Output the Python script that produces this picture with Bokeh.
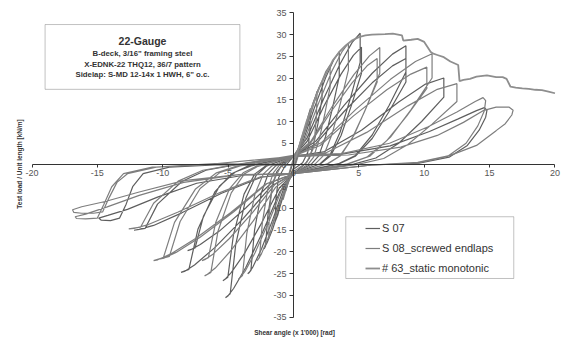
from math import pi
from bokeh.plotting import figure
from bokeh.models import (Label, BoxAnnotation, Legend, LegendItem, FixedTicker, Range1d)
from bokeh.embed import file_html
from bokeh.resources import INLINE

# ---------------- data ----------------
x_ticks = [-20, -15, -10, -5, 0, 5, 10, 15, 20]
x_tick_labels = ["-20", "-15", "-10", "-5", "0", "5", "10", "15", "20"]
y_ticks = [-35, -30, -25, -20, -15, -10, -5, 0, 5, 10, 15, 20, 25, 30, 35]
y_tick_labels = ["-35", "-30", "-25", "-20", "-15", "-10", "-5", "0", "5", "10", "15", "20", "25", "30", "35"]

series_names = ["S 07", "S 08_screwed endlaps", "# 63_static monotonic"]

# S 07 cyclic test (shear angle x1000 rad, load kN/m)
s07_points = [
    (0, 0), (0.3, 3), (0.6, 6), (0.45, 3.5), (0.15, 0.5), (-0.3, -3), (-0.6, -6), (-0.45, -3.5), (-0.15, -0.5),
    (0, 1), (0.45, 4), (0.85, 8), (1.15, 11.5), (1.3, 13), (1.25, 8), (1.1, 3), (0.7, 0.5),
    (0, -1), (-0.45, -4), (-0.9, -8), (-1.2, -11.5), (-1.4, -13), (-1.35, -8), (-1.15, -3), (-0.7, -0.5),
    (0, 2), (0.44, 3.8), (0.99, 9.5), (1.54, 14.6), (1.94, 17.7), (2.2, 19), (2.18, 15.2), (1.87, 9.5),
    (1.54, 4.8), (1.21, 1.5), (0.88, 0.2),
    (0, -2), (-0.46, -3.9), (-1.04, -9.7), (-1.61, -14.9), (-2.02, -17.9), (-2.23, -19.1), (-2.25, -19.3),
    (-2.14, -18.7), (-1.96, -11.6), (-1.61, -4.8), (-1.27, -1.5), (-0.92, -0.2),
    (0, 2), (0.7, 5.2), (1.58, 13), (2.45, 20), (3.08, 24.2), (3.5, 26), (3.5, 20.3), (2.98, 13), (2.45, 6.5),
    (1.93, 2.1), (1.4, 0.3),
    (0, -2), (-0.7, -5), (-1.58, -12.5), (-2.45, -19.3), (-3.08, -23.3), (-3.4, -24.8), (-3.5, -25),
    (-3.26, -24.3), (-2.98, -15), (-2.45, -6.3), (-1.93, -2), (-1.4, -0.3),
    (0, 2), (1.02, 6.1), (2.3, 15.2), (3.57, 23.3), (4.49, 28.2), (5.1, 30.3), (5.1, 23.6), (4.34, 15.2),
    (3.57, 7.6), (2.81, 2.4), (2.04, 0.3),
    (0, -2), (-1.04, -6.1), (-2.34, -15.3), (-3.64, -23.5), (-4.58, -28.4), (-5.04, -30.2), (-5.2, -30.5),
    (-4.84, -29.6), (-4.42, -18.3), (-3.64, -7.6), (-2.86, -2.4), (-2.08, -0.3),
    (0, 2), (1.04, 5.4), (2.34, 13.6), (3.64, 20.9), (4.58, 25.2), (5.2, 27.1), (5.2, 21.1), (4.42, 13.6),
    (3.64, 6.8), (2.86, 2.2), (2.08, 0.3),
    (0, -2), (-1.08, -5.3), (-2.43, -13.3), (-3.78, -20.5), (-4.75, -24.7), (-5.24, -26.3), (-5.4, -26.6),
    (-5.02, -25.8), (-4.59, -16), (-3.78, -6.7), (-2.97, -2.1), (-2.16, -0.3),
    (0, 2), (1.72, 5.5), (3.87, 13.7), (6.02, 21.1), (7.57, 25.5), (8.6, 27.4), (8.6, 21.4), (7.31, 13.7),
    (6.02, 6.9), (4.73, 2.2), (3.44, 0.3),
    (0, -2), (-1.72, -4.9), (-3.87, -12.4), (-6.02, -19), (-7.57, -23), (-8.34, -24.5), (-8.6, -24.7),
    (-8.0, -24), (-7.31, -14.8), (-6.02, -6.2), (-4.73, -2), (-3.44, -0.2),
    (0, 2), (1.72, 4.9), (3.87, 12.3), (6.02, 18.9), (7.57, 22.8), (8.6, 24.5), (8.6, 19.1), (7.31, 12.3),
    (6.02, 6.1), (4.73, 2), (3.44, 0.2),
    (0, -2), (-1.62, -3.9), (-3.65, -9.9), (-5.67, -15.2), (-7.13, -18.3), (-7.86, -19.5), (-8.1, -19.7),
    (-7.53, -19.1), (-6.89, -11.8), (-5.67, -4.9), (-4.46, -1.6), (-3.24, -0.2),
    (0, 2), (2.3, 3), (5.2, 8), (8.05, 14.5), (10.1, 18.6), (11.5, 20), (11.5, 15.6), (9.8, 10), (8.05, 5),
    (6.3, 1.6), (4.6, 0.2),
    (0, -2), (-2.44, -2.8), (-5.5, -6.5), (-8.54, -11), (-10.7, -13.9), (-11.8, -14.8), (-12.2, -15),
    (-11.35, -14.6), (-10.4, -9), (-8.54, -3.8), (-6.7, -1.2), (-4.9, -0.2),
    (0, 2), (3.7, 2.5), (7.4, 4.4), (10.4, 7.7), (12.6, 10.6), (14.0, 12.5), (14.6, 13.2), (14.8, 12.6),
    (14.7, 11), (14.2, 8), (13.3, 4.5), (11.9, 1.8), (9.6, 0.4), (6, 0),
    (0, -2), (-3.7, -2.3), (-7.4, -4.2), (-10.4, -7.4), (-12.7, -10.2), (-14.2, -11.6), (-14.9, -12.2),
    (-14.7, -12.7), (-14.0, -12.8), (-13.3, -12.2), (-12.8, -9), (-12.3, -5), (-11.5, -2), (-9.5, -0.5),
    (-6, 0), (0, 0),
]

# S 08 cyclic test, screwed endlaps
s08_points = [
    (0, 0), (0.4, 4), (0.8, 8), (0.6, 4.5), (0.2, 0.5), (-0.4, -4), (-0.8, -8), (-0.6, -4.5), (-0.2, -0.5),
    (0, 1.5), (0.55, 5), (1.1, 9.5), (1.5, 13.5), (1.8, 17), (1.75, 11), (1.55, 4), (1.0, 0.5),
    (0, -1.5), (-0.55, -5), (-1.15, -9.5), (-1.6, -13.5), (-1.9, -17), (-1.85, -11), (-1.6, -4), (-1.0, -0.5),
    (0, 2), (0.56, 4.6), (1.26, 11.5), (1.96, 17.7), (2.46, 21.4), (2.8, 23), (2.8, 17.9), (2.38, 11.5),
    (1.96, 5.8), (1.54, 1.8), (1.12, 0.2),
    (0, -2), (-0.56, -4.4), (-1.26, -11), (-1.96, -16.9), (-2.46, -20.5), (-2.72, -21.8), (-2.8, -22),
    (-2.6, -21.3), (-2.38, -13.2), (-1.96, -5.5), (-1.54, -1.8), (-1.12, -0.2),
    (0, 2), (0.84, 5.6), (1.89, 14), (2.94, 21.6), (3.7, 26), (4.2, 28), (4.2, 21.8), (3.57, 14), (2.94, 7),
    (2.31, 2.2), (1.68, 0.3),
    (0, -2), (-0.84, -5.2), (-1.89, -13.1), (-2.94, -20.2), (-3.7, -24.4), (-4.07, -25.9), (-4.2, -26.2),
    (-3.9, -25.4), (-3.57, -15.7), (-2.94, -6.6), (-2.31, -2.1), (-1.68, -0.3),
    (0, 2), (1.32, 5.4), (2.97, 13.5), (4.62, 20.8), (5.81, 25.1), (6.6, 27), (6.6, 21.1), (5.61, 13.5),
    (4.62, 6.8), (3.63, 2.2), (2.64, 0.3),
    (0, -2), (-1.36, -5.1), (-3.06, -12.8), (-4.76, -19.6), (-5.98, -23.7), (-6.6, -25.2), (-6.8, -25.5),
    (-6.32, -24.7), (-5.78, -15.3), (-4.76, -6.4), (-3.74, -2), (-2.72, -0.3),
    (0, 2), (1.28, 4.9), (2.88, 12.3), (4.48, 18.9), (5.63, 22.8), (6.4, 24.5), (6.4, 19.1), (5.44, 12.3),
    (4.48, 6.1), (3.52, 2), (2.56, 0.2),
    (0, -2), (-1.4, -4.4), (-3.15, -11), (-4.9, -16.9), (-6.16, -20.5), (-6.79, -21.8), (-7.0, -22),
    (-6.51, -21.3), (-5.95, -13.2), (-4.9, -5.5), (-3.85, -1.8), (-2.8, -0.2),
    (0, 2), (2.12, 5.1), (4.77, 12.8), (7.42, 19.7), (9.33, 23.8), (10.6, 25.6), (10.6, 20), (9.01, 12.8),
    (7.42, 6.4), (5.83, 2), (4.24, 0.3),
    (0, -2), (-2.14, -4.4), (-4.82, -11), (-7.49, -16.9), (-9.42, -20.5), (-10.38, -21.8), (-10.7, -22),
    (-9.95, -21.3), (-9.1, -13.2), (-7.49, -5.5), (-5.89, -1.8), (-4.28, -0.2),
    (0, 2), (2.04, 4.5), (4.59, 11.3), (7.14, 17.3), (8.98, 20.9), (10.2, 22.5), (10.2, 17.6), (8.67, 11.3),
    (7.14, 5.6), (5.61, 1.8), (4.08, 0.2),
    (0, -2), (-2.04, -4.3), (-4.59, -10.8), (-7.14, -16.6), (-8.98, -20.1), (-9.89, -21.4), (-10.2, -21.6),
    (-9.49, -21), (-8.67, -13), (-7.14, -5.4), (-5.61, -1.7), (-4.08, -0.2),
    (0, 2), (2.5, 2.8), (5.6, 7.5), (8.75, 13.6), (11, 17.4), (12.5, 18.7), (12.5, 14.6), (10.6, 9.4),
    (8.75, 4.7), (6.9, 1.5), (5, 0.2),
    (0, -2), (-2.52, -2.7), (-5.67, -6.4), (-8.82, -10.8), (-11.1, -13.7), (-12.2, -14.6), (-12.6, -14.7),
    (-11.7, -14.3), (-10.7, -8.8), (-8.82, -3.7), (-6.93, -1.2), (-5, -0.2),
    (0, 2.2), (3.7, 2.6), (7.35, 5), (10.3, 8.8), (12.5, 12.2), (13.9, 14.6), (14.5, 15.5), (14.7, 14.8),
    (14.6, 12.5), (14.1, 9), (13.2, 5), (11.8, 2), (9.5, 0.5), (6, 0),
    (0, -2), (-4.2, -2.2), (-8.4, -4), (-11.8, -7), (-14.3, -9.7), (-15.9, -11.3), (-16.7, -11.9),
    (-16.6, -12.3), (-15.9, -12.4), (-15.0, -12.2), (-14.5, -9), (-13.9, -5), (-13, -2), (-10.8, -0.5), (-7, 0),
    (0, 2), (4.2, 2.3), (8.2, 4.1), (11, 6.8), (13, 9.8), (14.5, 12.5), (15.5, 13.3), (16.5, 13.3), (16.8, 12.6),
    (16.7, 11.5), (16.2, 9.5), (15.5, 7.9), (14, 4.5), (12, 2.2), (9.5, 0.6), (6, 0),
    (0, -2), (-4.2, -2.2), (-8.4, -3.6), (-11.8, -6.2), (-14.4, -8.4), (-16.2, -9.6), (-16.9, -10.3),
    (-16.8, -10.9), (-16.2, -11.1), (-15.3, -11.1), (-14.6, -10.8), (-14.1, -7.5), (-13.5, -4), (-12.7, -2),
    (-10.5, -0.5), (-6, 0.3), (0, 0),
]

# # 63 static monotonic test
mono_x = [0, 0.5, 1, 1.5, 2, 2.5, 3, 3.5, 4, 4.5, 5, 5.5, 6, 7, 7.6, 8, 8.3, 8.4, 9, 9.5, 10, 10.5,
          10.7, 11, 11.5, 12, 12.6, 12.7, 13, 13.5, 14, 14.8, 15.5, 16, 16.3, 16.6, 17, 17.5, 18, 18.5,
          19, 19.5, 20]
mono_y = [0, 5, 10, 14, 18, 21, 24, 26, 27.5, 28.7, 29.4, 29.8, 30.0, 30.1, 30.2, 30.0, 29.8, 28.6, 28.8,
          29.0, 28.3, 26.0, 25.6, 25.3, 24.8, 23.8, 23.0, 19.3, 19.6, 19.8, 20.3, 20.6, 20.2, 20.2, 19.8,
          18.0, 17.8, 17.6, 17.5, 17.3, 17.2, 16.9, 16.5]

box_lines = ["22-Gauge",
             "B-deck, 3/16\" framing steel",
             "X-EDNK-22 THQ12, 36/7 pattern",
             "Sidelap: S-MD 12-14x 1 HWH, 6\" o.c."]

# ---------------- figure ----------------
FONT = "Liberation Sans"
# the frame covers the whole canvas; axes sit at the origin and are bounded
p = figure(width=561, height=339, x_range=Range1d(-22.41, 20.50), y_range=Range1d(-40.13, 37.83),
           output_backend="svg", toolbar_location=None, min_border=0,
           min_border_left=0, min_border_right=0, min_border_top=0, min_border_bottom=0)
p.outline_line_color = None
p.grid.visible = False
p.background_fill_color = "white"

s07_x = [pt[0] for pt in s07_points]
s07_y = [pt[1] for pt in s07_points]
s08_x = [pt[0] for pt in s08_points]
s08_y = [pt[1] for pt in s08_points]

r07 = p.line(s07_x, s07_y, line_color="#5e5e5e", line_width=1.2)
r08 = p.line(s08_x, s08_y, line_color="#7e7e7e", line_width=1.2)
r63 = p.line(mono_x, mono_y, line_color="#8e8e8e", line_width=1.8)

xa = p.xaxis[0]
xa.fixed_location = 0
xa.bounds = (-20, 20)
xa.ticker = FixedTicker(ticks=x_ticks)
xa.major_label_overrides = {t: s for t, s in zip(x_ticks, x_tick_labels)}
xa.major_tick_in = 0
xa.major_tick_out = 3
xa.minor_tick_line_color = None
xa.axis_line_color = "#333333"
xa.major_tick_line_color = "#333333"
xa.major_label_text_font = FONT
xa.major_label_text_font_size = "9px"
xa.major_label_text_color = "#555555"
xa.major_label_standoff = 2

ya = p.yaxis[0]
ya.fixed_location = 0
ya.bounds = (-35, 35)
ya.ticker = FixedTicker(ticks=y_ticks)
ya.major_label_overrides = {t: s for t, s in zip(y_ticks, y_tick_labels)}
ya.major_tick_in = 0
ya.major_tick_out = 4
ya.minor_tick_line_color = None
ya.axis_line_color = "#333333"
ya.major_tick_line_color = "#333333"
ya.major_label_text_font = FONT
ya.major_label_text_font_size = "9px"
ya.major_label_text_color = "#555555"
ya.major_label_standoff = 3

# axis titles
p.add_layout(Label(x=0.08, y=-38.5, text="Shear angle (x 1'000) [rad]", text_align="center",
                   text_baseline="middle", text_font=FONT, text_font_size="6.5px",
                   text_font_style="bold", text_color="#333333"))
p.add_layout(Label(x=-20.96, y=0.23, angle=pi / 2, text="Test load / Unit length [kN/m]",
                   text_align="center", text_baseline="middle", text_font=FONT,
                   text_font_size="6.5px", text_font_style="bold", text_color="#333333"))

# annotation box
p.add_layout(BoxAnnotation(left=-19.0, right=-4.1, top=32.3, bottom=17.4,
                           fill_color="white", fill_alpha=1, line_color="#333333", line_width=1))
box_ys = [28.5, 25.6, 23.2, 20.9]
box_sizes = ["10.5px", "7.8px", "7.8px", "7.8px"]
for txt, yy, fs in zip(box_lines, box_ys, box_sizes):
    p.add_layout(Label(x=-11.55, y=yy, text=txt, text_align="center", text_baseline="middle",
                       text_font=FONT, text_font_size=fs, text_font_style="bold",
                       text_color="#333333"))

# legend frame + legend
p.add_layout(BoxAnnotation(left=4.0, right=16.85, top=-11.9, bottom=-26.1,
                           fill_color="white", fill_alpha=1, line_color="#333333", line_width=1))
legend = Legend(items=[LegendItem(label=series_names[0], renderers=[r07]),
                       LegendItem(label=series_names[1], renderers=[r08]),
                       LegendItem(label=series_names[2], renderers=[r63])],
                location=(361, 58), padding=4, spacing=2, margin=0,
                label_height=18, glyph_height=18, glyph_width=15, label_standoff=2,
                border_line_alpha=0, background_fill_alpha=0,
                label_text_font=FONT, label_text_font_size="11px", label_text_color="#333333")
p.add_layout(legend)

open("out.html", "w").write(file_html(p, INLINE))
